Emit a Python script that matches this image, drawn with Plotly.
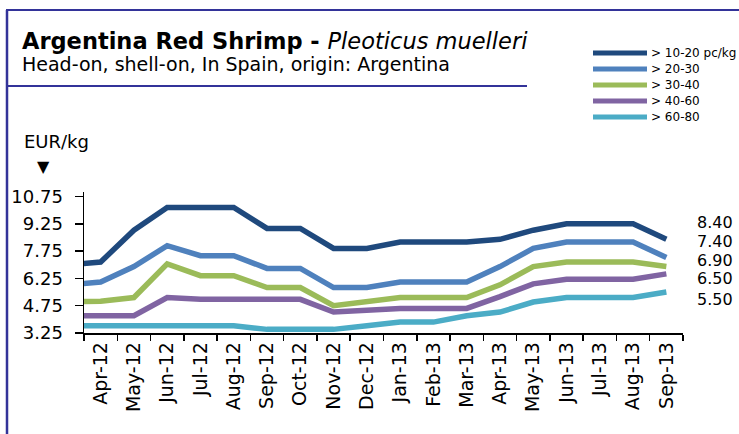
import plotly.graph_objects as go

# ---- data ----
months = ["Mar-12", "Apr-12", "May-12", "Jun-12", "Jul-12", "Aug-12", "Sep-12", "Oct-12",
          "Nov-12", "Dec-12", "Jan-13", "Feb-13", "Mar-13", "Apr-13", "May-13", "Jun-13",
          "Jul-13", "Aug-13", "Sep-13"]
shown_months = months[1:]

s_10_20 = [7.0, 7.15, 8.9, 10.15, 10.15, 10.15, 9.0, 9.0, 7.9, 7.9, 8.25, 8.25, 8.25, 8.4, 8.9, 9.25, 9.25, 9.25, 8.4]
s_20_30 = [5.9, 6.05, 6.9, 8.05, 7.5, 7.5, 6.8, 6.8, 5.75, 5.75, 6.05, 6.05, 6.05, 6.9, 7.9, 8.25, 8.25, 8.25, 7.4]
s_30_40 = [4.95, 5.0, 5.2, 7.05, 6.4, 6.4, 5.75, 5.75, 4.75, 5.0, 5.2, 5.2, 5.2, 5.9, 6.9, 7.15, 7.15, 7.15, 6.9]
s_40_60 = [4.2, 4.2, 4.2, 5.2, 5.1, 5.1, 5.1, 5.1, 4.4, 4.5, 4.6, 4.6, 4.6, 5.25, 5.95, 6.2, 6.2, 6.2, 6.5]
s_60_80 = [3.65, 3.65, 3.65, 3.65, 3.65, 3.65, 3.45, 3.45, 3.45, 3.65, 3.85, 3.85, 4.2, 4.4, 4.95, 5.2, 5.2, 5.2, 5.5]

series_names = ["> 10-20 pc/kg", "> 20-30", "> 30-40", "> 40-60", "> 60-80"]
series_values = [s_10_20, s_20_30, s_30_40, s_40_60, s_60_80]
series_colors = ["#1F497D", "#4F81BD", "#9BBB59", "#8064A2", "#4BACC6"]

y_ticks = [3.25, 4.75, 6.25, 7.75, 9.25, 10.75]

FONT = "DejaVu Sans"
FRAME = "#333399"

# ---- geometry (px) ----
W, H = 739, 434
L, R, T, B = 84, 683, 192, 333
pw, ph = R - L, B - T

def px_x(x):
    return (x - L) / pw

def px_y(y):
    return (B - y) / ph

fig = go.Figure()
for name, vals, col in zip(series_names, series_values, series_colors):
    fig.add_trace(go.Scatter(x=months, y=vals, name=name, mode="lines",
                             line=dict(color=col, width=5.5), hoverinfo="skip",
                             showlegend=False))

annotations = []
shapes = []

# end-value labels
label_y_px = [222, 241, 260, 278, 299]
for vals, ypx in zip(series_values, label_y_px):
    annotations.append(dict(x=px_x(695), y=px_y(ypx), xref="paper", yref="paper",
                            xanchor="left", yanchor="middle", showarrow=False,
                            text=f"{vals[-1]:.2f}", font=dict(family=FONT, size=16, color="black")))

# legend (drawn manually for exact spacing)
legend_y_px = [53, 69, 85, 101, 117]
for name, col, ypx in zip(series_names, series_colors, legend_y_px):
    shapes.append(dict(type="line", xref="paper", yref="paper",
                       x0=px_x(593), x1=px_x(647), y0=px_y(ypx), y1=px_y(ypx),
                       line=dict(color=col, width=5)))
    annotations.append(dict(x=px_x(649), y=px_y(ypx), xref="paper", yref="paper",
                            xanchor="left", yanchor="middle", showarrow=False,
                            text=name, font=dict(family=FONT, size=12, color="black")))

# title / subtitle / unit
annotations += [
    dict(x=px_x(20), y=px_y(41), xref="paper", yref="paper", xanchor="left", yanchor="middle",
         showarrow=False, text="<b>Argentina Red Shrimp - </b><i>Pleoticus muelleri</i>",
         font=dict(family=FONT, size=22.5, color="black")),
    dict(x=px_x(20), y=px_y(64), xref="paper", yref="paper", xanchor="left", yanchor="middle",
         showarrow=False, text="Head-on, shell-on, In Spain, origin: Argentina",
         font=dict(family=FONT, size=19, color="black")),
    dict(x=px_x(22), y=px_y(141), xref="paper", yref="paper", xanchor="left", yanchor="middle",
         showarrow=False, text="EUR/kg", font=dict(family=FONT, size=18, color="black")),
    dict(x=px_x(43), y=px_y(166), xref="paper", yref="paper", xanchor="center", yanchor="middle",
         showarrow=False, text="▼", font=dict(family=FONT, size=16, color="black")),
]

shapes += [
    dict(type="line", xref="paper", yref="paper", x0=px_x(7), x1=px_x(7), y0=px_y(10), y1=px_y(440),
         line=dict(color=FRAME, width=2.5)),
    dict(type="line", xref="paper", yref="paper", x0=px_x(6), x1=px_x(745), y0=px_y(10), y1=px_y(10),
         line=dict(color=FRAME, width=2)),
    dict(type="line", xref="paper", yref="paper", x0=px_x(6), x1=px_x(527), y0=px_y(86), y1=px_y(86),
         line=dict(color=FRAME, width=2)),
]

fig.update_layout(
    width=W, height=H,
    margin=dict(l=L, r=W - R, t=T, b=H - B, pad=0),
    paper_bgcolor="white", plot_bgcolor="white",
    font=dict(family=FONT, color="black"),
    showlegend=False,
    annotations=annotations,
    shapes=shapes,
    xaxis=dict(type="category", categoryorder="array", categoryarray=months,
               range=[0.5, len(months) - 0.5], tickson="boundaries",
               tickmode="array", tickvals=shown_months, ticktext=shown_months,
               tickangle=-90, ticks="outside", ticklen=6, tickwidth=1.5, tickcolor="black",
               showline=True, linecolor="black", linewidth=1.5, showgrid=False, zeroline=False,
               automargin=False,
               tickfont=dict(family=FONT, size=19, color="black")),
    yaxis=dict(range=[3.25, 11.0], tickmode="array", tickvals=y_ticks,
               ticktext=[f"{v:.2f}" for v in y_ticks],
               ticks="outside", ticklen=8, tickwidth=1.5, tickcolor="black",
               showline=True, linecolor="black", linewidth=1.5, showgrid=False, zeroline=False,
               ticklabelstandoff=8, automargin=False,
               tickfont=dict(family=FONT, size=18, color="black")),
)

fig.write_html("out.html", config={"displayModeBar": False, "staticPlot": True},
               post_script="document.body.style.margin='0';document.body.style.overflow='hidden';")
